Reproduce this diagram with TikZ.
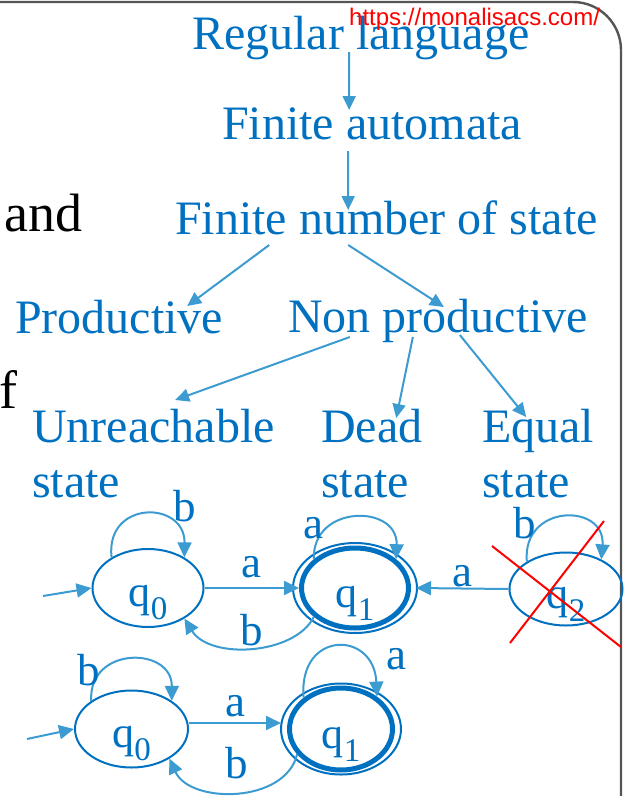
\documentclass[tikz,border=0pt]{standalone}
\usepackage{fontspec}
\setmainfont{Liberation Serif}
\newfontfamily\urlfont{Liberation Sans}
\usepackage{xcolor}
\usetikzlibrary{shapes.geometric, arrows.meta, positioning}
\definecolor{textblue}{RGB}{0,112,192}
\definecolor{arrowblue}{RGB}{60,155,208}
\definecolor{framegray}{RGB}{85,85,85}
\newcommand{\qstate}[1]{q\raisebox{-13pt}{\fontsize{33}{33}\selectfont #1}}
\tikzset{
  % Hierarchy styles
  topic/.style={font=\fontsize{48}{55}\selectfont, text=textblue, inner sep=0pt, align=left},
  side/.style={font=\fontsize{54}{60}\selectfont, text=black, inner sep=0pt},
  arrow/.style={-{Triangle[length=14pt, width=13pt]}, draw=arrowblue, line width=2pt},
  % Automaton styles
  state/.style={ellipse, draw=textblue, line width=2pt, inner sep=0pt},
  accepting/.style={state, line width=5pt},
  ring/.style={draw=textblue, line width=2pt},
  trans/.style={-{Triangle[length=15pt, width=14pt]}, draw=arrowblue, line width=2pt},
  sym/.style={font=\fontsize{45}{45}\selectfont, text=textblue, inner sep=0pt},
  qtext/.style={anchor=base, yshift=-15pt, font=\fontsize{44}{44}\selectfont, text=textblue, inner sep=0pt},
  strike/.style={draw=red, line width=2pt},
  slideframe/.style={draw=framegray, line width=2.4pt, rounded corners=48pt},
}
\begin{document}
\begin{tikzpicture}[x=1pt, y=-1pt]
    \useasboundingbox (0,0) rectangle (626,796);
    % Slide frame
    \draw[slideframe] (-10,2) -- (621,2) -- (621,806);
    % Side text cut at the slide edge
    \node[side, anchor=base west] (and) at (4,231) {and};
    \node[side, anchor=base west] (of) at (-1,408) {f};
    % Hierarchy
    \node[topic, anchor=base west] (reg) at (192,49) {Regular language};
    \node[topic, anchor=base west] (fa) at (222,139) {Finite automata};
    \node[topic, anchor=base west] (fns) at (175,234) {Finite number of state};
    \node[topic, anchor=base west] (prod) at (15,333) {Productive};
    \node[topic, anchor=base west] (nonprod) at (288,332) {Non productive};
    \node[topic, anchor=north west] (unreach) at (32,409) {Unreachable\\state};
    \node[topic, anchor=north west] (dead) at (321,409) {Dead\\state};
    \node[topic, anchor=north west] (equal) at (482,409) {Equal\\state};
    \draw[arrow] ([xshift=-11.6pt, yshift=-3pt]reg.base) -- ([xshift=-23pt, yshift=29pt]fa.base);
    \draw[arrow] ([xshift=-24pt, yshift=-12pt]fa.base) -- ([xshift=-38.3pt, yshift=24pt]fns.base);
    \draw[arrow] ([xshift=-117.3pt, yshift=-11pt]fns.base) -- ([xshift=68pt, yshift=27pt]prod.base);
    \draw[arrow] ([xshift=-38.3pt, yshift=-11pt]fns.base) -- ([xshift=5.7pt, yshift=25pt]nonprod.base);
    \draw[arrow] ([xshift=-88.3pt, yshift=-5pt]nonprod.base) -- ([xshift=21.7pt, yshift=9pt]unreach.north);
    \draw[arrow] ([xshift=-25.3pt, yshift=-5pt]nonprod.base) -- ([xshift=24.4pt, yshift=-9pt]dead.north);
    \draw[arrow] ([xshift=21.7pt, yshift=-3pt]nonprod.base) -- ([xshift=-12pt, yshift=-8pt]equal.north);
    % Top automaton
    \node[state, minimum width=111pt, minimum height=78pt, label={[qtext]center:\qstate{0}}] (s0) at (148,588) {};
    \node[accepting, minimum width=107pt, minimum height=80pt, label={[qtext]center:\qstate{1}}] (s1) at (355,588) {};
    \draw[ring] (s1.center) ellipse [x radius=62, y radius=45];
    \node[state, minimum width=113pt, minimum height=73pt, label={[qtext]center:\qstate{2}}] (s2) at (566,589) {};
    \coordinate (in1) at (43,596);
    \draw[trans] (in1) -- (s0.west);
    \draw[trans] (s0.east) -- node[sym, above=9pt] (a1) {a} (s1.west);
    \draw[trans] (s2.west) -- node[sym, above=1pt] (a2) {a} ([xshift=5pt]s1.east);
    \draw[trans] (s1.215) .. controls (295,655) and (210,660) .. node[sym, pos=.5, above=1pt] (b1) {b} (s0.-40);
    \draw[trans] (s0.140) .. controls (105,500) and (185,500) .. node[sym, pos=.75, anchor=south west, xshift=0pt, yshift=2pt] (b2) {b} (s0.40);
    \draw[trans] (s1.145) .. controls (312,504) and (398,504) .. node[sym, pos=.25, xshift=-13pt] (a3) {a} (s1.35);
    \draw[trans] (s2.145) .. controls (522,503) and (606,503) .. node[sym, pos=.25, xshift=-12pt, yshift=5pt] (b3) {b} (s2.40);
    % Crossed-out state
    \draw[strike] (492,546) -- (621,647);
    \draw[strike] (604,521) -- (510,643);
    % Bottom automaton
    \node[state, minimum width=113pt, minimum height=77pt, label={[qtext]center:\qstate{0}}] (t0) at (131.5,729) {};
    \node[accepting, minimum width=103pt, minimum height=82pt, label={[qtext]center:\qstate{1}}] (t1) at (341,729) {};
    \draw[ring] (t1.center) ellipse [x radius=60, y radius=45.5];
    \coordinate (in2) at (27,739);
    \draw[trans] (in2) -- (t0.west);
    \draw[trans] ([yshift=6pt]t0.east) -- node[sym, above=5pt] (a4) {a} ([xshift=-6pt, yshift=6pt]t1.west);
    \draw[trans] (t1.210) .. controls (285,804) and (190,804) .. node[sym, pos=.5, above=12pt] (b4) {b} (t0.-38);
    \draw[trans] (t0.145) .. controls (88,646) and (172,646) .. node[sym, pos=.25, xshift=-14pt] (b5) {b} (t0.35);
    \draw[trans] (t1.140) .. controls (298,630) and (374,630) .. node[sym, pos=.75, right=22pt] (a5) {a} (t1.42);
    % Watermark
    \node[font=\urlfont\fontsize{24}{24}\selectfont, text=red, anchor=base west, inner sep=0pt] (url) at (349,25) {https://monalisacs.com/};
\end{tikzpicture}
\end{document}
